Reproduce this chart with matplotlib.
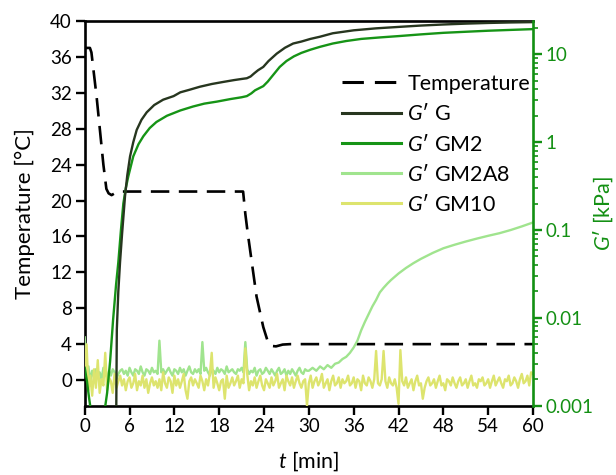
import numpy as np
import matplotlib
matplotlib.use('Agg')
import matplotlib.pyplot as plt
from matplotlib.ticker import LogLocator, NullFormatter, FixedLocator, FixedFormatter

plt.rcParams['font.family'] = ['Lato', 'DejaVu Sans']
plt.rcParams['mathtext.fontset'] = 'custom'
plt.rcParams['mathtext.it'] = 'Lato:italic'
plt.rcParams['mathtext.rm'] = 'Lato'

# ---------------- data ----------------
temp_t = [0, 0.7, 0.9, 1.6, 2.5, 2.9, 3.2, 3.6, 4.2, 4.8, 21.2, 21.5, 21.8, 23.0, 23.9,
          24.5, 25.0, 25.6, 26.5, 27.5, 60]
temp_T = [37, 37, 36.5, 31.5, 24, 21.3, 20.8, 20.6, 20.9, 21.0, 21.0, 18.5, 16.5, 9.3, 5.9,
          4.3, 3.8, 3.75, 3.95, 4.0, 4.0]

g_t = [4.22, 4.3, 4.5, 4.73, 5.0, 5.4, 5.7, 6.07, 6.5, 6.96, 7.6, 8.3, 9.3, 10.5, 11.9, 12.8,
       14, 15.4, 17, 18.5, 20, 21.0, 21.7, 22.2, 22.7, 23.2, 23.9, 24.6, 25.7, 26.8, 27.9, 29,
       30.2, 31.5, 33.2, 36, 39, 42.2, 45, 48, 51, 54, 57, 60]
g_val = [0.0008, 0.0074, 0.02, 0.043, 0.09, 0.245, 0.42, 0.69, 1.0, 1.38, 1.8, 2.19, 2.65, 3.05,
         3.35, 3.7, 3.95, 4.28, 4.6, 4.85, 5.1, 5.25, 5.35, 5.6, 6.1, 6.6, 7.2, 8.4, 10.2, 11.9,
         13.3, 14.0, 15.0, 15.9, 17.4, 18.8, 19.8, 20.6, 21.3, 21.9, 22.4, 22.8, 23.1, 23.3]

gm2_t = [0, 0.3, 0.6, 0.9, 2.6, 3.0, 3.4, 3.8, 4.2, 4.5, 4.85, 5.17, 5.5, 5.84, 6.5, 7.2, 7.85,
         8.7, 9.6, 11, 12.8, 14.5, 16, 17.7, 19.5, 21, 21.7, 22.3, 22.8, 23.3, 23.9, 24.5, 25.2,
         26.1, 27, 28, 29, 30.2, 31.5, 33.2, 35, 37, 39.5, 42.2, 45, 48, 51, 54, 57, 60]
gm2_val = [0.0027, 0.0019, 0.0012, 0.0008, 0.0008, 0.0014, 0.0032, 0.0095, 0.024, 0.043, 0.1,
           0.2, 0.3, 0.41, 0.69, 0.95, 1.17, 1.45, 1.7, 2.0, 2.3, 2.55, 2.75, 2.9, 3.1, 3.25,
           3.35, 3.6, 3.9, 4.1, 4.35, 4.9, 5.8, 7.2, 8.4, 9.5, 10.4, 11.3, 12.2, 13.3, 14.2,
           15.0, 15.6, 16.2, 16.9, 17.6, 18.1, 18.6, 19.0, 19.4]

# GM2A8: noisy baseline (Pa, every 0.25 min from 0 to 29.75) then gelation rise
gm2a8_noise_pa = [
    6.0, 2.3, 2.8, 1.9, 2.5, 2.1, 2.6, 2.2, 2.4, 2.0, 2.7, 2.3, 2.1, 2.5, 2.2, 2.6, 2.4, 2.0, 2.3, 2.5,
    2.6, 2.3, 2.5, 2.2, 2.7, 2.4, 2.2, 2.6, 2.5, 2.3, 2.8, 2.4, 2.2, 2.6, 2.5, 2.3, 2.7, 2.4, 2.5, 2.3,
    5.5, 2.4, 2.6, 2.3, 2.5, 2.7, 2.4, 2.2, 2.6, 2.5, 2.3, 2.7, 2.4, 2.6, 2.2, 2.5, 2.8, 2.4, 2.3, 2.6,
    2.4, 2.6, 2.3, 5.3, 2.5, 2.7, 2.4, 2.2, 2.6, 2.5, 2.3, 2.7, 2.4, 2.6, 2.5, 2.3, 2.8, 2.4, 2.5, 2.6,
    2.4, 2.3, 2.6, 2.5, 2.7, 2.4, 5.3, 2.6, 2.3, 2.5, 2.4, 2.7, 2.2, 2.5, 2.6, 2.3, 2.4, 2.7, 2.5, 2.3,
    2.6, 2.4, 2.2, 2.5, 2.7, 2.3, 2.4, 2.6, 2.2, 2.5, 2.3, 2.6, 2.4, 2.2, 2.5, 2.7, 2.4, 2.3, 2.6, 2.5,
]
gm2a8_rise_t = [30, 30.5, 31, 31.5, 32, 32.5, 33, 33.5, 34, 34.5, 35, 35.5, 36, 36.5, 37, 37.5,
                38, 38.5, 39, 39.5, 40, 40.5, 41, 42, 43, 44, 45, 46.6, 48, 49.5, 51, 52.5, 54,
                55.5, 57, 58.5, 60]
gm2a8_rise_pa = [2.5, 2.7, 2.5, 2.8, 2.6, 2.9, 2.7, 3.0, 3.1, 3.4, 3.6, 4.0, 4.6, 5.5, 7.2, 9.0,
                 11.0, 13.5, 16, 19.5, 22, 24.5, 27, 32, 37, 42, 47, 55, 62, 68, 74, 80, 86, 92,
                 100, 110, 122]

# GM10: noisy baseline over the whole run (Pa, every 0.25 min from 0 to 60)
gm10_pa = [
    2.4, 5.0, 1.5, 2.2, 1.3, 2.6, 1.6, 3.3, 1.4, 2.0, 1.7, 4.0, 1.5, 2.1, 1.9, 1.4, 2.3, 1.6, 1.9, 2.2,
    1.7, 2.0, 1.5, 1.9, 2.1, 1.6, 1.8, 2.3, 1.5, 1.9, 1.7, 2.2, 1.6, 2.0, 1.4, 1.8, 2.1, 1.7, 1.9, 1.6,
    2.0, 1.5, 2.4, 1.8, 1.6, 2.1, 1.9, 1.4, 2.2, 1.7, 2.0, 1.6, 1.9, 2.3, 1.5, 1.2, 1.9, 2.1, 1.7, 2.0,
    1.8, 1.6, 2.2, 1.9, 1.5, 2.0, 1.7, 2.3, 4.0, 1.6, 2.1, 1.8, 1.5, 1.9, 2.0, 1.2, 2.2, 1.6, 1.8, 2.1,
    1.7, 1.9, 2.2, 1.6, 2.0, 1.8, 4.5, 2.3, 1.5, 1.9, 1.7, 2.1, 1.6, 1.9, 2.2, 1.7, 1.5, 2.0, 1.8, 1.6,
    2.1, 1.7, 1.9, 2.3, 1.6, 1.8, 2.0, 1.5, 2.2, 1.9, 1.7, 2.1, 1.6, 1.9, 2.2, 1.8, 1.6, 1.9, 2.0, 1.0,
    1.8, 2.2, 1.6, 1.9, 2.1, 1.7, 1.9, 2.3, 1.6, 1.8, 2.0, 1.5, 1.9, 2.2, 1.7, 1.8, 2.1, 1.6, 2.0, 1.8,
    1.9, 2.2, 1.7, 1.8, 2.1, 1.6, 2.0, 1.9, 1.5, 2.2, 1.8, 1.7, 2.1, 1.9, 1.6, 2.0, 4.2, 1.8, 1.7, 2.0,
    4.2, 1.9, 1.6, 2.1, 1.8, 1.7, 2.0, 1.6, 1.05, 4.3, 1.9, 1.7, 2.1, 1.6, 1.8, 2.0, 1.5, 1.9, 2.2, 1.7,
    1.8, 1.2, 1.6, 1.9, 2.1, 1.7, 1.8, 2.0, 1.6, 1.9, 2.2, 1.7, 1.8, 1.5, 2.0, 1.9, 1.7, 2.1, 1.8, 1.6,
    1.9, 2.1, 1.7, 1.8, 2.0, 1.6, 1.9, 2.2, 1.7, 1.8, 1.6, 2.0, 1.9, 2.1, 1.7, 1.8, 2.0, 1.6, 1.9, 2.2,
    1.7, 1.9, 2.1, 1.8, 1.6, 2.0, 1.9, 2.2, 1.7, 1.8, 2.1, 1.9, 1.6, 2.0, 2.3, 1.8, 1.9, 2.2, 1.7, 2.4,
    2.3,
]

x_ticks = [0, 6, 12, 18, 24, 30, 36, 42, 48, 54, 60]
t_ticks = [0, 4, 8, 12, 16, 20, 24, 28, 32, 36, 40]
g_ticks = [0.001, 0.01, 0.1, 1, 10]
g_ticklabels = ['0.001', '0.01', '0.1', '1', '10']

# ---------------- styles ----------------
C_G = '#27361f'
C_GM2 = '#169416'
C_GM2A8 = '#a0e48e'
C_GM10 = '#dde46e'
C_AX2 = '#139013'
PRIME = "$G$\u2032"

W, H = 616, 475
fig = plt.figure(figsize=(W / 100, H / 100), dpi=100)
x0, x1, y0, y1 = 84.7, 533.0, 405.7, 21.0
ax = fig.add_axes([x0 / W, 1 - y0 / H, (x1 - x0) / W, (y0 - y1) / H])
ax2 = ax.twinx()

ax.plot(temp_t, temp_T, color='black', lw=1.9, dashes=(7, 3.6), label='Temperature', zorder=3)
ax.set_xlim(0, 60)
ax.set_ylim(-2.86, 40)

noise_t = np.arange(len(gm2a8_noise_pa)) * 0.25
gm2a8_t = list(noise_t) + gm2a8_rise_t
gm2a8_val = np.array(gm2a8_noise_pa + gm2a8_rise_pa) / 1000.0
gm10_t = np.arange(len(gm10_pa)) * 0.25
gm10_val = np.array(gm10_pa) / 1000.0

l_a8, = ax2.plot(gm2a8_t, gm2a8_val, color=C_GM2A8, lw=1.7)
l_10, = ax2.plot(gm10_t, gm10_val, color=C_GM10, lw=1.7)
l_gm2, = ax2.plot(gm2_t, gm2_val, color=C_GM2, lw=1.7)
l_g, = ax2.plot(g_t, g_val, color=C_G, lw=1.7)
ax2.set_yscale('log')
ax2.set_ylim(0.001, 24)

# ticks & spines
lw_sp = 1.9
for s in ['left', 'bottom', 'top']:
    ax.spines[s].set_linewidth(lw_sp)
    ax.spines[s].set_color('black')
ax.spines['right'].set_visible(False)
for s in ['left', 'bottom', 'top']:
    ax2.spines[s].set_visible(False)
ax2.spines['right'].set_color(C_AX2)
ax2.spines['right'].set_linewidth(lw_sp)

ax.set_xticks(x_ticks)
ax.set_yticks(t_ticks)
ax.tick_params(axis='both', direction='out', length=6.2, width=1.7, labelsize=13.5, pad=3,
               colors='black')
ax.tick_params(axis='x', pad=3)

ax2.yaxis.set_major_locator(FixedLocator(g_ticks))
ax2.yaxis.set_major_formatter(FixedFormatter(g_ticklabels))
ax2.yaxis.set_minor_locator(LogLocator(base=10, subs=np.arange(2, 10)))
ax2.yaxis.set_minor_formatter(NullFormatter())
ax2.tick_params(axis='y', which='major', direction='out', length=6.2, width=1.7,
                labelsize=13.5, colors=C_AX2, labelcolor=C_AX2, pad=3)
ax2.tick_params(axis='y', which='minor', direction='out', length=3.5, width=1.2, colors=C_AX2)

ax.set_xlabel('$t$ [min]', fontsize=15.5)
ax.set_ylabel('Temperature [°C]', fontsize=16)
ax2.set_ylabel(PRIME + " [kPa]", fontsize=15.5, color=C_AX2)
aw, ah = x1 - x0, y0 - y1
ax.xaxis.set_label_coords(0.5, -(449 - y0) / ah)
ax.yaxis.set_label_coords(-(x0 - 35) / aw, 0.5)
ax2.yaxis.set_label_coords((591 - x0) / aw, 0.5)

handles = [ax.get_lines()[0], l_g, l_gm2, l_a8, l_10]
labels = ['Temperature', PRIME + " G", PRIME + " GM2", PRIME + " GM2A8", PRIME + " GM10"]
leg = fig.legend(handles, labels, loc='upper left', bbox_to_anchor=(342 / W, 1 - 74 / H),
                 frameon=False, fontsize=15.5, handlelength=2.75, handletextpad=0.28,
                 labelspacing=0.43, borderpad=0, borderaxespad=0)
for ln in leg.get_lines():
    ln.set_linewidth(2.2)

fig.savefig('out.png', dpi=100)
